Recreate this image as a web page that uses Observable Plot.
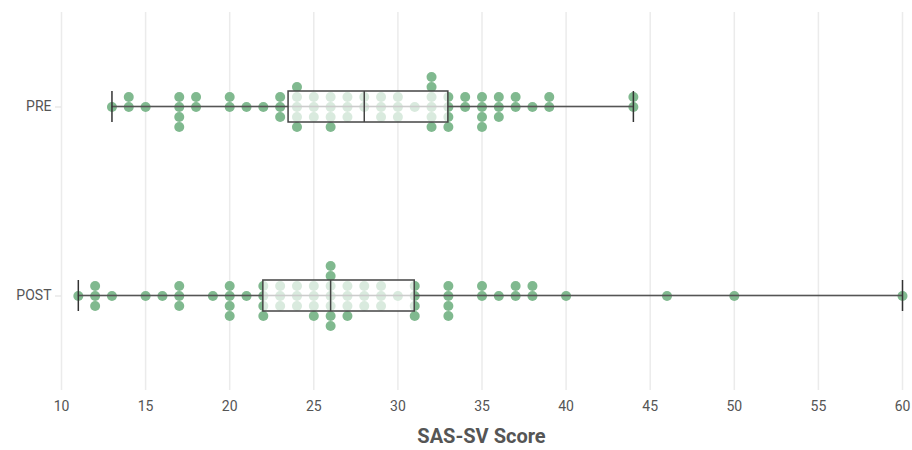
<!DOCTYPE html>
<html>
<head>
<meta charset="utf-8">
<script src="https://cdn.jsdelivr.net/npm/d3@7"></script>
<script src="https://cdn.jsdelivr.net/npm/@observablehq/plot@0.6"></script>
<style>
  body { margin: 0; background: #fff; font-family: Roboto, "Open Sans", sans-serif; }
  #chart { width: 912px; }
  #xlabel { width: 912px; box-sizing: border-box; padding-left: 61px; padding-right: 10px; text-align: center;
            font: bold 20px Roboto, "Open Sans", sans-serif; color: #555; margin-top: 4px; }
</style>
</head>
<body>
<div id="chart"></div>
<div id="xlabel">SAS-SV Score</div>
<script>
const groups = ["PRE", "POST"];
const preScores = [13,14,14,15,17,17,17,17,18,18,20,20,21,22,23,23,23,24,24,24,24,24,25,25,25,26,26,26,26,27,27,27,28,28,29,29,29,30,30,30,31,32,32,32,32,32,32,33,33,33,33,34,34,35,35,35,35,36,36,36,37,37,38,39,39,44,44];
const postScores = [11,12,12,12,13,15,16,17,17,17,19,20,20,20,20,21,22,22,22,22,23,23,23,24,24,24,25,25,25,25,26,26,26,26,26,26,26,27,27,27,27,28,28,28,29,29,29,30,31,31,31,31,33,33,33,33,35,35,36,37,37,38,38,40,46,50,60];
const xTicks = [10,15,20,25,30,35,40,45,50,55,60];
const xLabel = "SAS-SV Score";

// stacking level of the k-th dot sharing a value (+ = up): 0, +1, -1, -2, +2, +3, -3, ...
function level(k) {
  if (k === 0) return 0;
  const m = Math.ceil(k / 2);
  const up = (k % 2 === 1) === (m % 2 === 1);
  return up ? m : -m;
}
function stacked(group, scores) {
  const seen = new Map();
  return scores.map(v => {
    const k = seen.get(v) || 0;
    seen.set(v, k + 1);
    return {group, score: v, level: level(k)};
  });
}
const data = [...stacked("PRE", preScores), ...stacked("POST", postScores)];

const green = "#80b98f";
const facetH = (420 - 12 - 30) / 2;
const dotStep = 10;             // px per stacking level
const half = facetH / dotStep / 2;
const boxH = 31;
const inset = (facetH - boxH) / 2;
const lineInset = (facetH - 1.6) / 2;

const chart = Plot.plot({
  width: 912,
  height: 420,
  marginTop: 12,
  marginBottom: 30,
  marginLeft: 61,
  marginRight: 10,
  style: {fontFamily: "Roboto, 'Open Sans', sans-serif", fontSize: "14px", color: "#555", background: "#fff"},
  x: {domain: [10, 60]},
  y: {domain: [-half, half], axis: null},
  fy: {domain: groups, padding: 0},
  marks: [
    Plot.gridX(xTicks, {stroke: "#ebebeb", strokeOpacity: 1, strokeWidth: 1.5}),
    Plot.axisX(xTicks, {tickSize: 0, tickPadding: 11, line: true, stroke: "#e8e8e8", strokeOpacity: 1, strokeWidth: 1.5, fill: "#555", label: null, fontSize: 14}),
    Plot.axisFy({anchor: "left", tickSize: 6, tickPadding: 4, stroke: "#ddd", strokeOpacity: 1, fill: "#555", label: null, fontSize: 14}),
    Plot.dot(data, {x: "score", y: "level", fy: "group", r: 5, fill: green, stroke: "none"}),
    Plot.barX(data, Plot.groupZ({x1: "min", x2: "max"}, {x: "score", fy: "group", fill: "#555", insetTop: lineInset, insetBottom: lineInset})),
    Plot.barX(data, Plot.groupZ({x1: "p25", x2: "p75"}, {x: "score", fy: "group", fill: "white", fillOpacity: 0.7, stroke: "#444", strokeWidth: 1.5, insetTop: inset, insetBottom: inset})),
    Plot.tickX(data, Plot.groupZ({x: "median"}, {x: "score", fy: "group", stroke: "#444", strokeWidth: 1.5, insetTop: inset, insetBottom: inset})),
    Plot.tickX(data, Plot.groupZ({x: "min"}, {x: "score", fy: "group", stroke: "#333", strokeWidth: 1.5, insetTop: inset, insetBottom: inset})),
    Plot.tickX(data, Plot.groupZ({x: "max"}, {x: "score", fy: "group", stroke: "#333", strokeWidth: 1.5, insetTop: inset, insetBottom: inset}))
  ]
});
document.getElementById("chart").appendChild(chart);
document.getElementById("xlabel").textContent = xLabel;
</script>
</body>
</html>
